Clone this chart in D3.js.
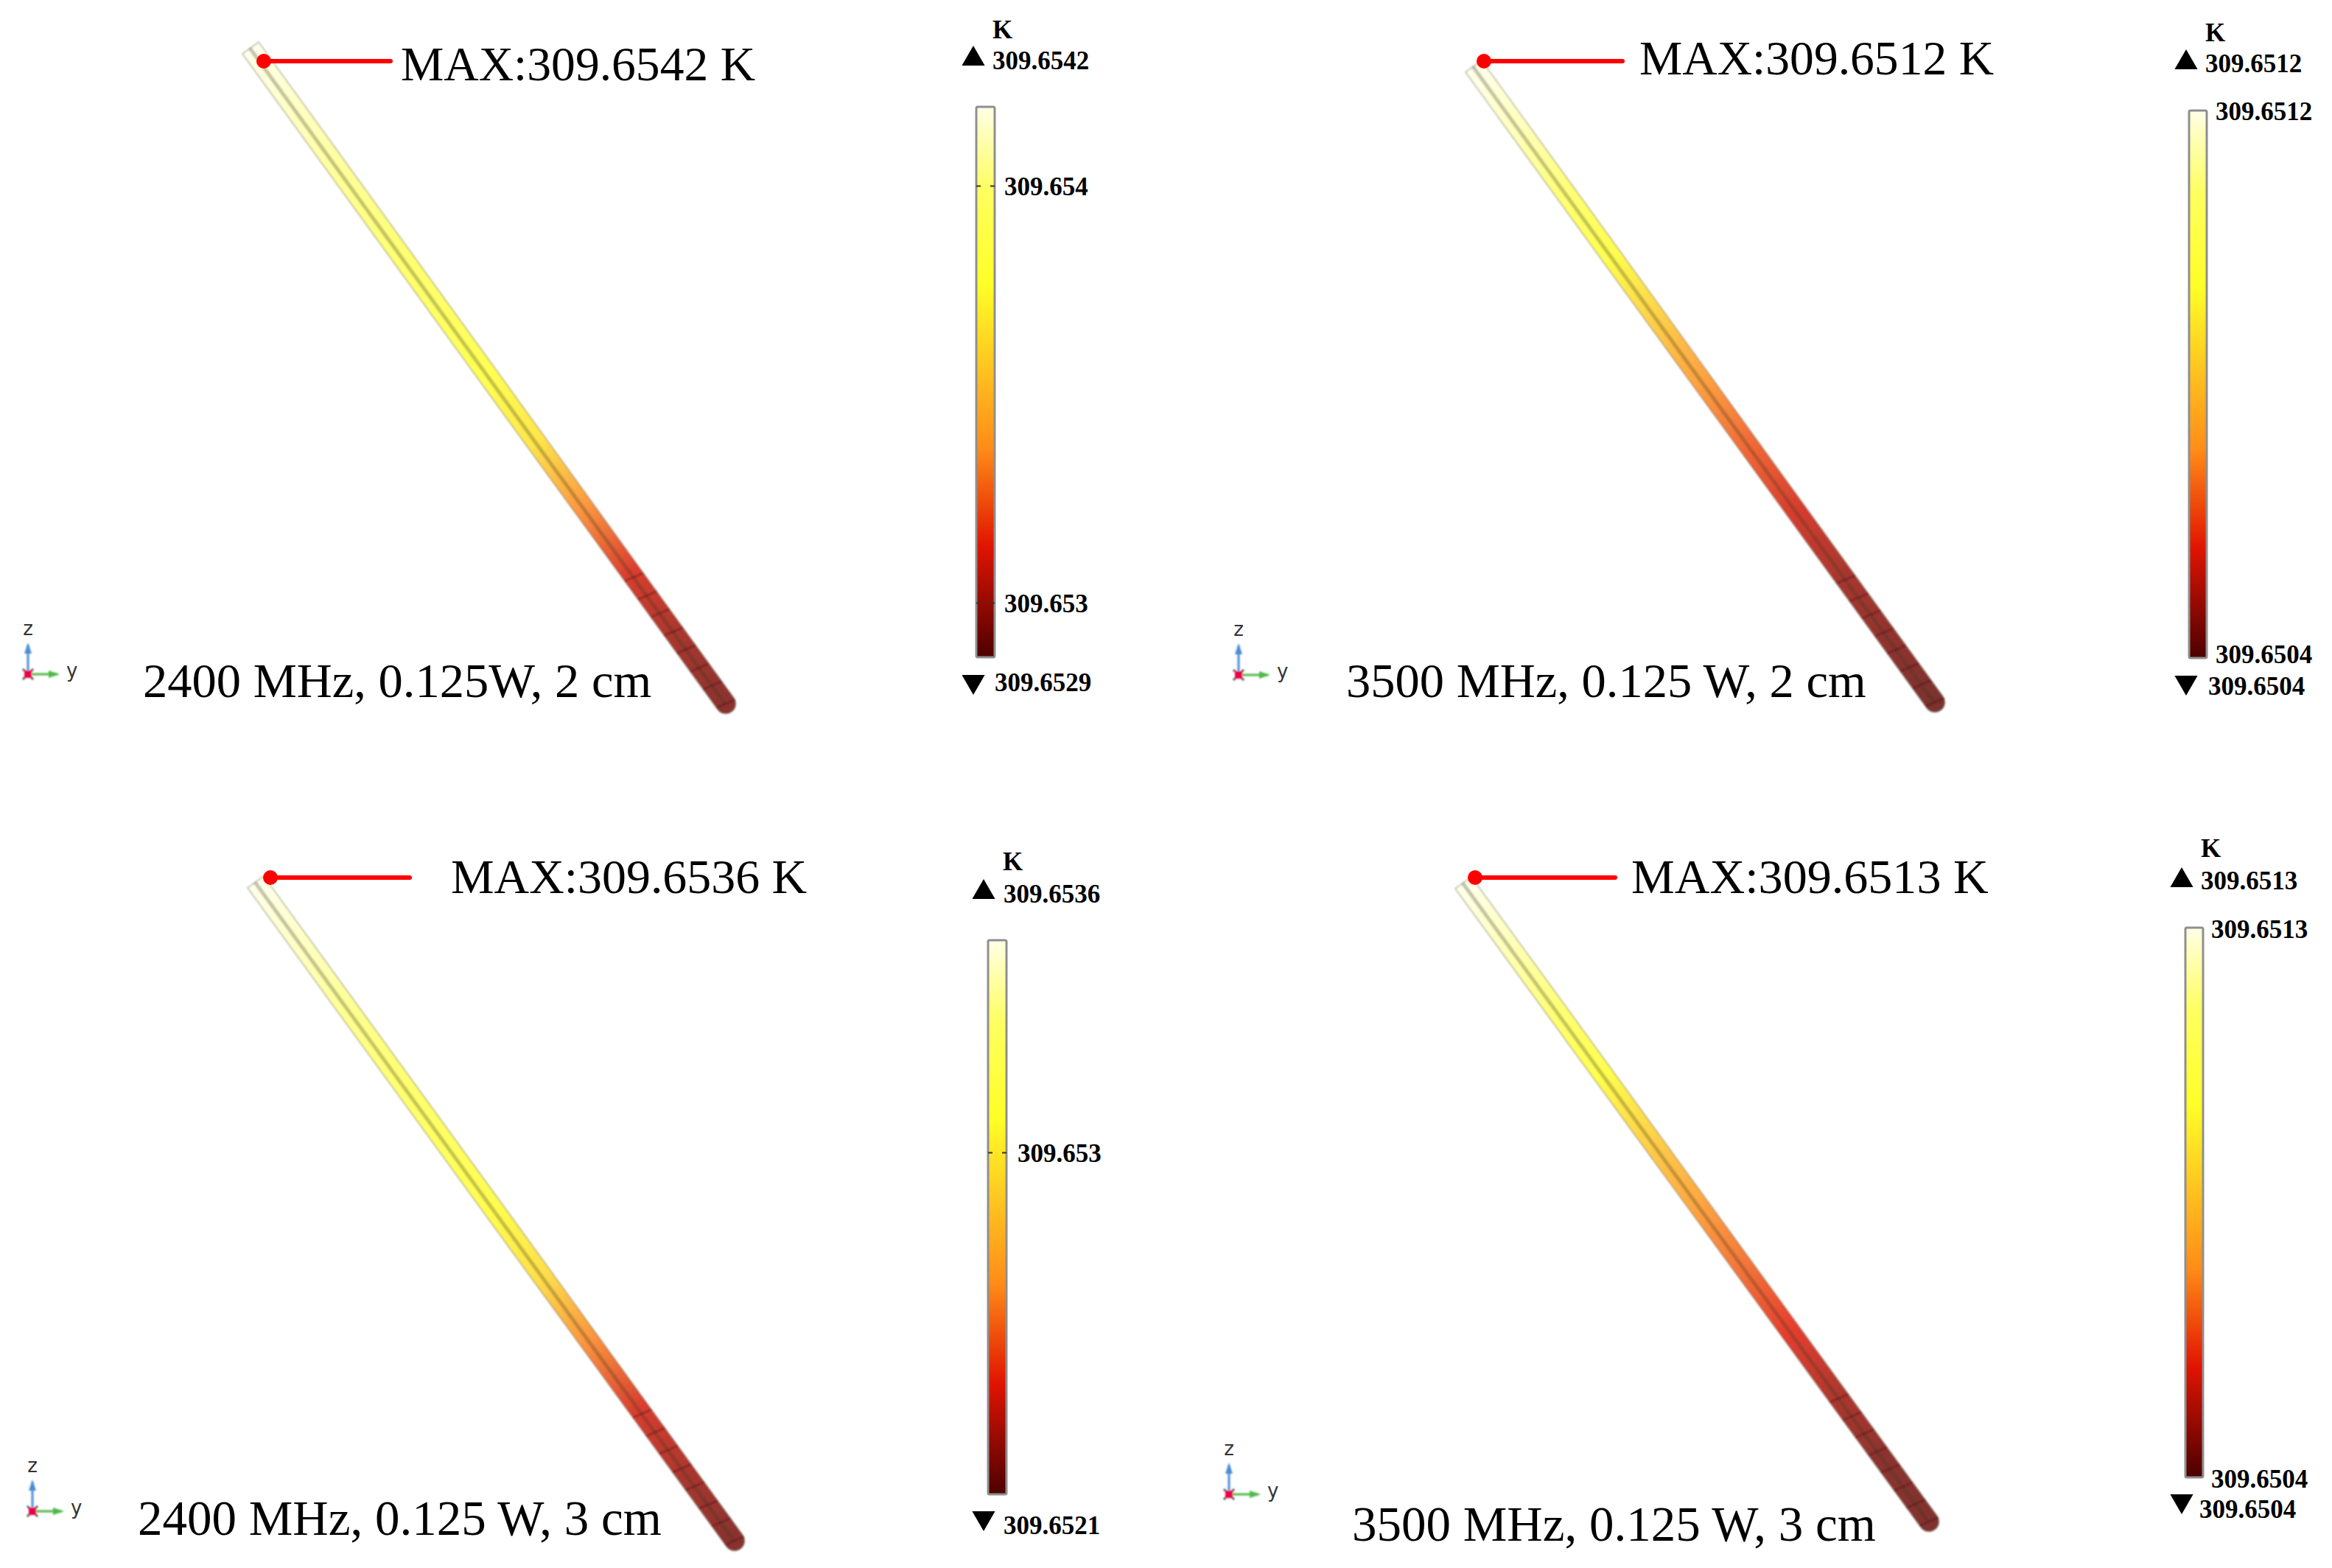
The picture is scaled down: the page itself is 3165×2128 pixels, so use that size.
<!DOCTYPE html>
<html><head><meta charset="utf-8">
<script src="https://cdn.jsdelivr.net/npm/d3@7"></script>
<style>html,body{margin:0;padding:0;background:#fff}svg{display:block}</style>
</head><body><svg id="c" width="3165" height="2128"></svg>
<script>
// ---------- data ----------
const captions = ["2400 MHz, 0.125W, 2 cm","3500 MHz, 0.125 W, 2 cm","2400 MHz, 0.125 W, 3 cm","3500 MHz, 0.125 W, 3 cm"];
const maxLabels = ["MAX:309.6542 K","MAX:309.6512 K","MAX:309.6536 K","MAX:309.6513 K"];
const tempMax = [309.65419,309.6512,309.65356,309.6513];
const tempMin = [309.65287,309.6504,309.6521,309.6504];
const barTicks = [[309.654,309.653],[309.6512,309.6504],[309.653],[309.6513,309.6504]];
const tickDigits = [3,4,3,4];
const rodPositions = [0,.1,.2,.3,.4,.5,.6,.7,.8,.9,1];
const rodTempA = [309.65419,309.65412,309.65404,309.65396,309.65388,309.65379,309.65366,309.65335,309.65311,309.653,309.65294];
const rodTempB = [309.6512,309.65115,309.65106,309.65094,309.65082,309.6507,309.65062,309.65054,309.65048,309.65045,309.65042];
const rodTempC = [309.65356,309.65348,309.65338,309.65328,309.65319,309.65308,309.65294,309.65261,309.65236,309.65225,309.65217];
const rodTempD = [309.6513,309.65124,309.65114,309.65101,309.65088,309.65076,309.65067,309.65058,309.6505,309.65045,309.65043];
const rodTemps = [rodTempA,rodTempB,rodTempC,rodTempD];
const meshPositions = [.807,.835,.862,.89,.917,.945,.972,1];
const cmapPos = [0,.05,.15,.32,.62,.8,1];
const cmapCol = ["#ffffe8","#ffffb8","#ffff60","#ffff28","#ff8c18","#e01400","#4c0000"];

// ---------- layout ----------
const layout = [
 {rod:[340,65,985,955],dot:[358,83],lineEnd:530,maxSize:65.6,maxX:544,maxY:109,capSize:66.5,capX:194,capY:946,
  bar:[1325,145,25,747],kX:1347,kY:52,upX:1321,upY:89,upLX:1347,upLY:94,dnX:1321,dnY:916,dnLX:1350,dnLY:938,tickX:1363,endShift:[0,0],triad:[38,915]},
 {rod:[2000,90,2626,953],dot:[2014,83],lineEnd:2202,maxSize:65.6,maxX:2225,maxY:101,capSize:66.5,capX:1827,capY:946,
  bar:[2971,150,24,743],kX:2993,kY:56,upX:2967,upY:94,upLX:2993,upLY:98,dnX:2967,dnY:917,dnLX:2997,dnLY:943,tickX:3007,endShift:[0,-6],triad:[1681,916]},
 {rod:[347,1197,997,2091],dot:[367,1191],lineEnd:556,maxSize:65.9,maxX:612,maxY:1212,capSize:67,capX:187,capY:2083,
  bar:[1341,1276,25,752],kX:1361,kY:1181,upX:1335,upY:1220,upLX:1362,upLY:1225,dnX:1335,dnY:2051,dnLX:1362,dnLY:2082,tickX:1381,endShift:[0,0],triad:[44,2051]},
 {rod:[1986,1198,2618,2065],dot:[2002,1191],lineEnd:2192,maxSize:66.1,maxX:2214,maxY:1212,capSize:67,capX:1835,capY:2091,
  bar:[2966,1259,24,746],kX:2987,kY:1163,upX:2961,upY:1204,upLX:2987,upLY:1207,dnX:2961,dnY:2028,dnLX:2985,dnLY:2060,tickX:3001,endShift:[1,1],triad:[1668,2028]}
];
const ROD_W = 27;
const SERIF = "'Liberation Serif','Times New Roman',serif";

const svg = d3.select("#c");
const defs = svg.append("defs");
defs.append("filter").attr("id","soft")
    .attr("filterUnits","userSpaceOnUse").attr("x",0).attr("y",0).attr("width",3165).attr("height",2128)
    .append("feGaussianBlur").attr("stdDeviation",0.9);
svg.append("rect").attr("width",3165).attr("height",2128).attr("fill","#fff");

const cmap = d3.scaleLinear().domain(cmapPos).range(cmapCol).interpolate(d3.interpolateRgb).clamp(true);

layout.forEach((L,i)=>{
  const g = svg.append("g");
  const [x0,y0,x1,y1] = L.rod;
  const rx = d3.scaleLinear().domain([0,1]).range([x0,x1]);
  const ry = d3.scaleLinear().domain([0,1]).range([y0,y1]);
  const len = Math.hypot(x1-x0,y1-y0), ux=(x1-x0)/len, uy=(y1-y0)/len, nx=-uy, ny=ux;
  const norm = d3.scaleLinear().domain([tempMax[i],tempMin[i]]).range([0,1]);

  // rod gradient
  const gid = "rod"+i;
  const grad = defs.append("linearGradient").attr("id",gid).attr("gradientUnits","userSpaceOnUse")
    .attr("x1",x0).attr("y1",y0).attr("x2",x1).attr("y2",y1);
  grad.selectAll("stop").data(rodPositions).join("stop")
    .attr("offset",d=>d).attr("stop-color",(d,k)=>cmap(norm(rodTemps[i][k])));
  const rodG = g.append("g").attr("filter","url(#soft)");
  const h = ROD_W/2;
  const p = d3.path();
  p.moveTo(x0+nx*h,y0+ny*h);
  p.lineTo(x1+nx*h,y1+ny*h);
  const ang = Math.atan2(ny,nx);
  p.arc(x1,y1,h,ang,ang+Math.PI,true);
  p.lineTo(x0-nx*h,y0-ny*h);
  p.closePath();
  rodG.append("path").attr("d",p.toString()).attr("fill","#fff");
  rodG.append("path").attr("d",p.toString()).attr("fill",`url(#${gid})`).attr("fill-opacity",.82)
     .attr("stroke","#6e6e5a").attr("stroke-opacity",.5).attr("stroke-width",1.6);
  // darker central ridge
  rodG.append("line").attr("x1",x0+nx*1).attr("y1",y0+ny*1).attr("x2",x1+nx*1).attr("y2",y1+ny*1)
     .attr("stroke","#3a3a20").attr("stroke-opacity",.3).attr("stroke-width",5);
  // mesh bands at the lower end
  rodG.selectAll("g.mesh").data(meshPositions).join("g").attr("class","mesh").each(function(m){
    d3.select(this).append("line")
       .attr("x1",rx(m)+nx*h-ux*3).attr("y1",ry(m)+ny*h-uy*3)
       .attr("x2",rx(m)-nx*h+ux*3).attr("y2",ry(m)-ny*h+uy*3)
       .attr("stroke","#4a0c14").attr("stroke-opacity",.34).attr("stroke-width",3);
  });

  // leader + MAX label
  g.append("line").attr("x1",L.dot[0]).attr("y1",L.dot[1]).attr("x2",L.lineEnd).attr("y2",L.dot[1])
    .attr("stroke","#ff0000").attr("stroke-width",6).attr("stroke-linecap","round");
  g.append("circle").attr("cx",L.dot[0]).attr("cy",L.dot[1]).attr("r",10).attr("fill","#ff0000");
  g.append("text").attr("x",L.maxX).attr("y",L.maxY).text(maxLabels[i])
    .attr("font-family",SERIF).attr("font-size",L.maxSize).attr("fill","#000");
  g.append("text").attr("x",L.capX).attr("y",L.capY).text(captions[i])
    .attr("font-family",SERIF).attr("font-size",L.capSize).attr("fill","#000");

  // colour bar
  const [bx,by,bw,bh] = L.bar;
  const cid = "bar"+i;
  const cg = defs.append("linearGradient").attr("id",cid).attr("x1",0).attr("y1",0).attr("x2",0).attr("y2",1);
  cg.selectAll("stop").data(cmapPos).join("stop").attr("offset",d=>d).attr("stop-color",(d,k)=>cmapCol[k]);
  const yT = d3.scaleLinear().domain([tempMin[i],tempMax[i]]).range([by+bh,by]);
  g.append("rect").attr("x",bx).attr("y",by).attr("width",bw).attr("height",bh).attr("rx",2)
    .attr("fill",`url(#${cid})`).attr("stroke","#8f8f8f").attr("stroke-width",3);
  const interior = barTicks[i].filter(v=>yT(v)>by+5 && yT(v)<by+bh-5);
  interior.forEach(v=>{
    [[bx,bx+6],[bx+bw-6,bx+bw]].forEach(([a,b])=>
      g.append("line").attr("x1",a).attr("x2",b).attr("y1",yT(v)).attr("y2",yT(v)).attr("stroke","#333").attr("stroke-width",2));
  });
  const axis = d3.axisRight(yT).tickValues(barTicks[i]).tickSize(0).tickPadding(0)
    .tickFormat(d=>d.toFixed(tickDigits[i]));
  const ax = g.append("g").attr("transform",`translate(${L.tickX},0)`).call(axis);
  ax.select(".domain").remove();
  ax.selectAll("text").attr("x",0).attr("y",(d,k)=>k===1?L.endShift[1]:L.endShift[0]).attr("dy","0.35em").attr("fill","#000")
    .attr("font-family",SERIF).attr("font-size",35).attr("font-weight","bold");

  // unit and extremes
  const bold = (x,y,t)=>g.append("text").attr("x",x).attr("y",y).text(t).attr("fill","#000")
    .attr("font-family",SERIF).attr("font-size",35).attr("font-weight","bold");
  bold(L.kX,L.kY,"K");
  bold(L.upLX,L.upLY,tempMax[i].toFixed(4));
  bold(L.dnLX,L.dnLY,tempMin[i].toFixed(4));
  const tri = d3.symbol(d3.symbolTriangle,420)();
  g.append("path").attr("d",tri).attr("transform",`translate(${L.upX},${L.upY-9})`).attr("fill","#000");
  g.append("path").attr("d",tri).attr("transform",`translate(${L.dnX},${L.dnY+9}) rotate(180)`).attr("fill","#000");

  // axis triad
  const [tx,ty] = L.triad;
  const tg = g.append("g").attr("filter","url(#soft)");
  const arrow=(x2,y2,c,hp)=>{
    tg.append("line").attr("x1",tx).attr("y1",ty).attr("x2",x2).attr("y2",y2).attr("stroke",c).attr("stroke-width",3);
    tg.append("path").attr("d",hp).attr("fill",c);
  };
  arrow(tx,ty-40,"#4a8cd2",`M${tx},${ty-43}L${tx-5},${ty-28}L${tx+5},${ty-28}Z`);
  arrow(tx+40,ty,"#4fb848",`M${tx+43},${ty}L${tx+28},${ty-5}L${tx+28},${ty+5}Z`);
  tg.append("path").attr("d",`M${tx-7},${ty-7}L${tx+7},${ty+7}M${tx+7},${ty-7}L${tx-7},${ty+7}`)
    .attr("stroke","#444").attr("stroke-width",2.5);
  tg.append("rect").attr("x",tx-5).attr("y",ty-5).attr("width",10).attr("height",10).attr("fill","#e8004c");
  g.append("text").attr("x",tx).attr("y",ty-53).attr("text-anchor","middle").text("z")
    .attr("font-family","'DejaVu Sans',sans-serif").attr("font-size",26).attr("fill","#333");
  g.append("text").attr("x",tx+52).attr("y",ty+4).text("y")
    .attr("font-family","'DejaVu Sans',sans-serif").attr("font-size",26).attr("fill","#333");
});
</script></body></html>
